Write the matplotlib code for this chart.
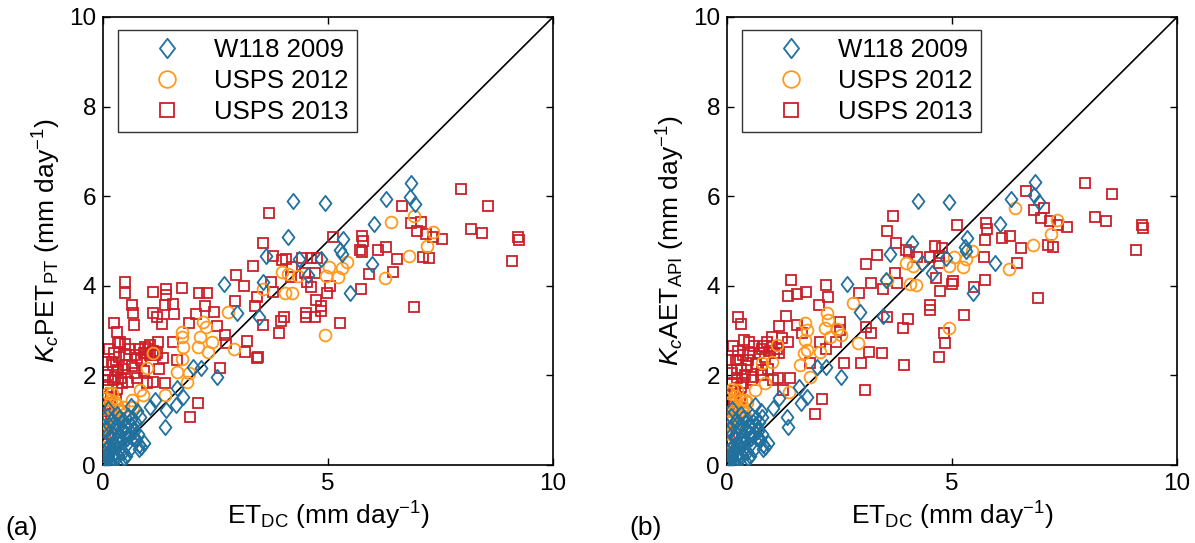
import matplotlib
matplotlib.use("Agg")
import matplotlib.pyplot as plt
from matplotlib.lines import Line2D
from matplotlib.path import Path

plt.rcParams['font.family'] = ['Liberation Sans', 'DejaVu Sans']
plt.rcParams['mathtext.fontset'] = 'custom'
plt.rcParams['mathtext.rm'] = 'Liberation Sans'
plt.rcParams['mathtext.it'] = 'Liberation Sans:italic'

# ---------------- data: panel (a) ----------------
w118_a_x = [4.23, 4.93, 4.12, 3.62, 4.36, 4.56, 4.84, 5.34, 5.27, 5.30, 6.02, 5.97, 6.29, 6.84, 6.82, 6.93,
            3.55, 5.49, 3.47, 2.69, 2.97, 2.01, 2.18, 2.54, 1.64, 1.77, 1.62, 1.39, 1.38, 1.16, 1.04, 0.62,
            0.82, 0.81, 0.67, 0.74, 0.80,
            0.05, 0.08, 0.10, 0.12, 0.15, 0.18, 0.20, 0.22, 0.25, 0.28, 0.30, 0.32, 0.35, 0.38, 0.40, 0.42,
            0.45, 0.48, 0.50, 0.52, 0.55, 0.58, 0.60, 0.02, 0.04, 0.06, 0.10, 0.14, 0.16, 0.20, 0.24, 0.26,
            0.30, 0.34, 0.36, 0.40, 0.44, 0.46, 0.50, 0.62, 0.66, 0.70, 0.75, 0.85, 0.90, 0.72, 0.78, 0.15,
            0.08, 0.12, 0.18, 0.00, 0.00, 0.02, 0.28, 0.33, 0.43, 0.53, 0.57, 0.64, 0.68, 0.24, 0.37, 0.47]
w118_a_y = [5.90, 5.84, 5.10, 4.67, 4.59, 4.24, 4.59, 5.04, 4.80, 4.72, 5.37, 4.49, 5.93, 6.29, 5.99, 5.82,
            4.09, 3.83, 3.31, 4.03, 3.39, 2.19, 2.16, 1.97, 1.71, 1.52, 1.34, 1.23, 0.85, 1.45, 1.30, 1.32,
            1.08, 0.45, 0.63, 0.56, 0.35,
            0.05, 0.15, 0.30, 0.20, 0.45, 0.35, 0.60, 0.25, 0.50, 0.75, 0.40, 0.90, 0.60, 0.30, 0.80, 0.55,
            1.00, 0.70, 0.45, 0.85, 1.10, 0.65, 0.35, 0.50, 0.80, 0.35, 0.70, 0.90, 0.10, 1.00, 0.15, 0.85,
            1.15, 0.20, 1.05, 0.10, 0.30, 0.15, 0.20, 0.90, 0.80, 0.95, 1.20, 0.40, 0.50, 0.60, 0.70, 0.65,
            1.10, 1.25, 0.00, 0.30, 0.15, 0.00, 0.55, 0.65, 0.75, 0.60, 0.95, 1.05, 0.75, 0.40, 0.50, 0.90]

usps12_a_x = [6.39, 6.91, 7.33, 7.21, 6.80, 6.27, 5.43, 5.30, 5.23, 5.02, 4.95, 4.93, 3.97, 4.10, 4.33, 4.19,
              4.04, 3.56, 2.78, 2.22, 2.29, 1.75, 1.75, 2.16, 2.42, 1.77, 2.12, 2.90, 2.34, 1.12, 1.75, 1.64,
              1.90, 0.97, 1.86, 1.38, 0.82, 0.88, 0.64, 0.67, 0.19, 0.27, 0.38, 0.49,
              0.02, 0.05, 0.03, 0.08, 0.10, 0.12, 0.06, 0.15, 0.20, 0.18, 0.25, 0.30, 0.02, 0.04, 0.10, 0.35,
              0.40, 0.45, 0.12, 0.22, 0.00, 0.05]
usps12_a_y = [5.43, 5.56, 5.21, 4.89, 4.67, 4.17, 4.54, 4.39, 4.19, 4.41, 4.22, 2.90, 4.30, 4.26, 4.22, 3.83,
              3.85, 3.94, 3.42, 3.20, 3.09, 2.98, 2.86, 2.86, 2.75, 2.64, 2.64, 2.60, 2.53, 2.51, 2.36, 2.08,
              2.05, 2.16, 1.86, 1.56, 1.67, 1.56, 1.45, 1.30, 1.60, 1.41, 1.23, 1.15,
              0.05, 0.20, 0.40, 0.60, 0.90, 1.10, 1.30, 0.75, 1.25, 1.45, 1.05, 1.35, 0.85, 1.00, 0.30, 1.20,
              1.00, 1.30, 1.60, 0.90, 0.00, 1.50]

usps13_a_x = [7.95, 8.56, 8.17, 8.42, 9.23, 9.25, 9.08, 6.65, 6.84, 7.06, 6.97, 7.17, 7.33, 7.54, 7.12, 7.25,
              6.90, 6.53, 6.45, 6.29, 6.12, 5.75, 5.78, 5.71, 5.75, 5.90, 5.73, 5.27, 5.12, 3.68, 3.55, 3.77,
              3.98, 4.07, 4.21, 4.42, 4.62, 4.76, 4.71, 4.49, 4.53, 4.62, 5.04, 4.98, 4.73, 4.84, 4.84, 4.71,
              4.51, 4.51, 4.02, 3.95, 3.56, 3.90, 3.73, 3.77, 3.42, 3.38, 3.33, 3.45, 4.17,
              2.96, 3.13, 2.93, 1.75, 1.41, 1.41, 1.10, 0.49, 0.49, 0.64, 0.67, 0.69, 0.24, 0.30, 0.34, 1.38,
              1.55, 1.58, 1.12, 1.19, 1.30, 1.90, 2.06, 2.27, 2.47, 2.13, 2.30, 2.54, 2.71, 2.73, 3.19, 3.16,
              3.43, 2.60, 2.10, 1.93, 1.38, 1.25, 1.12, 0.97, 1.04, 1.23, 0.93, 0.90, 0.75, 0.71, 0.49, 0.34,
              0.23, 0.27, 0.42, 0.04, 1.34, 1.55, 1.64, 1.19, 0.00, 0.18,
              0.05, 0.08, 0.10, 0.12, 0.15, 0.18, 0.20, 0.22, 0.25, 0.28, 0.30, 0.32, 0.36, 0.40, 0.45, 0.50,
              0.55, 0.60, 0.65, 0.70, 0.04, 0.02, 0.10, 0.06, 0.14, 0.38, 0.48, 0.80, 0.85, 0.95, 1.05, 1.10,
              1.00, 1.15, 0.90, 0.75]
usps13_a_y = [6.15, 5.78, 5.26, 5.17, 5.08, 5.02, 4.56, 5.79, 5.41, 5.43, 5.22, 5.16, 5.08, 5.04, 4.65, 4.63,
              3.52, 4.60, 4.31, 4.86, 4.81, 5.11, 5.00, 4.81, 4.76, 4.26, 3.92, 3.18, 5.08, 5.62, 4.96, 4.67,
              4.58, 4.60, 4.43, 4.61, 4.63, 4.61, 4.29, 4.28, 4.09, 3.97, 4.00, 3.85, 3.68, 3.54, 3.44, 3.31,
              3.39, 3.30, 3.31, 3.22, 3.13, 2.95, 4.09, 3.87, 3.76, 3.54, 4.44, 2.42, 4.20,
              4.24, 4.00, 3.67, 3.96, 3.94, 3.79, 3.87, 4.09, 3.83, 3.57, 3.39, 3.13, 3.16, 2.98, 2.73, 3.57,
              3.59, 3.36, 3.40, 3.31, 3.15, 3.16, 3.37, 3.56, 3.41, 3.83, 3.85, 3.10, 2.90, 2.72, 2.77, 2.53,
              2.38, 2.16, 1.39, 1.08, 1.84, 2.14, 1.86, 1.84, 2.68, 2.75, 2.64, 2.51, 2.38, 2.05, 2.23, 2.12,
              2.23, 1.97, 1.82, 1.90, 2.38, 2.75, 2.34, 2.49, 0.71, 1.15,
              1.20, 1.50, 1.75, 2.00, 1.35, 1.60, 2.30, 1.90, 2.50, 1.45, 2.10, 1.70, 2.40, 1.95, 2.15, 2.45,
              1.85, 2.60, 2.20, 2.45, 0.70, 1.00, 0.90, 2.30, 2.60, 2.75, 2.70, 2.60, 2.35, 2.50, 2.45, 2.55,
              2.60, 2.45, 2.10, 1.95]

# ---------------- data: panel (b) ----------------
w118_b_x = [4.24, 4.93, 6.30, 6.84, 6.82, 6.94, 6.07, 5.34, 5.29, 5.31, 5.96, 5.47, 4.87, 4.55, 4.33, 4.12,
            3.62, 3.53, 3.46, 2.67, 2.96, 1.99, 2.20, 2.53, 1.61, 1.78, 1.64, 1.33, 1.36, 1.16, 1.03, 0.62,
            0.77, 0.79, 0.66, 0.74, 0.80,
            0.05, 0.08, 0.10, 0.12, 0.15, 0.18, 0.20, 0.22, 0.25, 0.28, 0.30, 0.32, 0.35, 0.38, 0.40, 0.42,
            0.45, 0.48, 0.50, 0.52, 0.55, 0.58, 0.60, 0.02, 0.04, 0.06, 0.10, 0.14, 0.16, 0.20, 0.24, 0.26,
            0.30, 0.34, 0.36, 0.40, 0.44, 0.46, 0.50, 0.62, 0.66, 0.70, 0.75, 0.85, 0.90, 0.72, 0.78, 0.15,
            0.08, 0.12, 0.18, 0.00, 0.00, 0.02, 0.28, 0.33, 0.43, 0.53, 0.57, 0.64, 0.68, 0.24, 0.37, 0.47]
w118_b_y = [5.90, 5.87, 5.93, 6.32, 6.03, 5.86, 5.39, 5.07, 4.86, 4.78, 4.52, 3.85, 4.61, 4.28, 4.50, 4.95,
            4.70, 4.13, 3.33, 4.03, 3.41, 2.19, 2.18, 1.97, 1.75, 1.52, 1.38, 1.08, 0.85, 1.49, 1.27, 1.34,
            1.08, 0.45, 0.60, 0.56, 0.35,
            0.05, 0.15, 0.30, 0.20, 0.45, 0.35, 0.60, 0.25, 0.50, 0.75, 0.40, 0.90, 0.60, 0.30, 0.80, 0.55,
            1.00, 0.70, 0.45, 0.85, 1.10, 0.65, 0.35, 0.50, 0.80, 0.35, 0.70, 0.90, 0.10, 1.00, 0.15, 0.85,
            1.15, 0.20, 1.05, 0.10, 0.30, 0.15, 0.20, 0.90, 0.80, 0.95, 1.20, 0.40, 0.50, 0.60, 0.70, 0.65,
            1.10, 1.25, 0.00, 0.30, 0.15, 0.00, 0.55, 0.65, 0.75, 0.60, 0.95, 1.05, 0.75, 0.40, 0.50, 0.90]

usps12_b_x = [6.40, 7.33, 7.20, 6.79, 6.27, 5.44, 5.31, 5.24, 5.04, 4.94, 4.94, 3.98, 4.14, 4.07, 4.20, 3.55,
              2.79, 2.22, 2.25, 1.73, 1.77, 2.18, 2.44, 2.29, 2.53, 2.92, 1.73, 1.77, 2.07, 1.84, 1.10, 0.77,
              0.99, 1.70, 1.62, 1.38, 0.84, 0.62, 0.40, 0.22, 0.18, 0.07, 0.33,
              0.02, 0.05, 0.03, 0.08, 0.10, 0.12, 0.06, 0.15, 0.20, 0.18, 0.25, 0.30, 0.02, 0.04, 0.10, 0.35,
              0.40, 0.45, 0.12, 0.22, 0.00, 0.05]
usps12_b_y = [5.73, 5.48, 5.16, 4.91, 4.38, 4.78, 4.59, 4.41, 4.64, 4.44, 3.05, 4.52, 4.44, 4.04, 4.02, 4.14,
              3.62, 3.39, 3.24, 3.16, 3.01, 3.05, 3.03, 2.85, 2.90, 2.72, 2.79, 2.57, 2.53, 1.97, 2.68, 2.27,
              2.31, 2.49, 2.23, 1.64, 1.82, 1.67, 1.45, 1.67, 1.27, 1.08, 1.23,
              0.05, 0.25, 0.45, 0.70, 1.00, 1.20, 1.40, 0.85, 1.35, 1.55, 1.15, 1.45, 0.95, 1.10, 0.35, 1.30,
              1.10, 1.40, 1.70, 1.00, 0.00, 1.60]

usps13_b_x = [7.96, 8.56, 8.18, 8.42, 9.22, 9.25, 9.09, 6.64, 6.82, 7.04, 6.98, 7.18, 7.35, 7.55, 7.13, 7.25,
              6.90, 6.53, 6.45, 6.29, 6.10, 5.76, 5.78, 5.73, 5.71, 5.73, 5.49, 5.27, 5.10, 3.68, 3.55, 3.76,
              3.98, 4.05, 4.23, 4.62, 4.77, 4.70, 4.51, 4.72, 4.64, 5.03, 4.99, 4.73, 4.51, 4.51, 4.03, 3.90,
              3.56, 3.73, 3.78, 3.46, 4.82, 4.84, 4.70, 3.44,
              3.33, 3.09, 3.20, 2.94, 1.42, 1.36, 1.56, 1.76, 2.20, 2.25, 2.05, 0.25, 0.30, 1.31, 1.16, 1.55,
              1.66, 0.99, 1.22, 0.88, 0.77, 1.36, 2.51, 2.51, 2.07, 2.20, 2.42, 3.09, 3.19, 3.16, 2.97, 2.60,
              1.84, 0.25, 0.47, 0.22, 0.77, 1.03, 1.14, 1.40, 1.25, 0.58, 0.36, 0.14, 2.10, 1.96, 3.07, 3.93,
              0.00,
              0.05, 0.08, 0.10, 0.12, 0.15, 0.18, 0.20, 0.22, 0.25, 0.28, 0.30, 0.32, 0.36, 0.40, 0.45, 0.50,
              0.55, 0.60, 0.65, 0.70, 0.04, 0.02, 0.10, 0.06, 0.14, 0.38, 0.48, 0.80, 0.85, 0.95, 1.05, 1.10,
              1.00, 1.15, 0.90, 0.75]
usps13_b_y = [6.30, 6.04, 5.54, 5.45, 5.36, 5.28, 4.80, 6.12, 5.69, 5.73, 5.51, 5.45, 5.36, 5.32, 4.91, 4.87,
              3.72, 4.85, 4.52, 5.11, 5.06, 5.41, 5.26, 5.02, 4.64, 4.13, 3.98, 3.35, 5.36, 5.56, 5.23, 4.95,
              4.80, 4.76, 4.65, 4.89, 4.85, 4.67, 4.64, 4.50, 4.17, 4.11, 4.04, 3.88, 3.57, 3.47, 3.25, 3.05,
              3.30, 4.29, 4.07, 3.92, 2.95, 2.72, 2.42, 2.49,
              4.69, 4.49, 4.07, 3.85, 4.14, 3.77, 3.82, 3.87, 4.02, 3.76, 3.57, 3.31, 3.14, 3.33, 3.11, 3.13,
              2.94, 2.86, 2.83, 2.75, 2.58, 2.75, 3.20, 3.01, 2.75, 2.60, 2.75, 3.09, 2.94, 2.52, 2.28, 2.27,
              2.28, 2.34, 2.34, 2.12, 2.12, 1.90, 1.94, 1.94, 1.67, 1.97, 1.82, 1.45, 1.47, 1.13, 1.67, 2.23,
              0.71,
              1.25, 1.55, 1.80, 2.05, 1.40, 1.65, 2.35, 1.95, 2.55, 1.50, 2.15, 1.75, 2.45, 2.00, 2.20, 2.50,
              1.90, 2.65, 2.25, 2.50, 0.75, 1.05, 0.95, 2.35, 2.65, 2.80, 2.75, 2.65, 2.40, 2.55, 2.50, 2.60,
              2.65, 2.50, 2.15, 2.00]

series_labels = ['W118 2009', 'USPS 2012', 'USPS 2013']
x_ticks = [0, 5, 10]
y_ticks = [0, 2, 4, 6, 8, 10]

c_blue = '#21709e'
c_orange = '#ff9a1f'
c_red = '#cc1f27'

# MATLAB-like diamond: taller than wide
diamond = Path([(0, -1), (0.78, 0), (0, 1), (-0.78, 0), (0, -1)],
               [Path.MOVETO, Path.LINETO, Path.LINETO, Path.LINETO, Path.CLOSEPOLY])

fig = plt.figure(figsize=(11.95, 5.43), dpi=100)
axes_pos = [[0.0862, 0.1436, 0.3766, 0.8251], [0.6084, 0.1436, 0.3766, 0.8251]]
ylabels = [r'$K_c$PET$_{\mathrm{PT}}$ (mm day$^{-1}$)', r'$K_c$AET$_{\mathrm{API}}$ (mm day$^{-1}$)']
panel_tags = ['(a)', '(b)']
datasets = [
    (w118_a_x, w118_a_y, usps12_a_x, usps12_a_y, usps13_a_x, usps13_a_y),
    (w118_b_x, w118_b_y, usps12_b_x, usps12_b_y, usps13_b_x, usps13_b_y),
]

for i, pos in enumerate(axes_pos):
    ax = fig.add_axes(pos)
    wx, wy, ox, oy, rx, ry = datasets[i]
    ax.plot([0, 10], [0, 10], color='black', lw=1.2, zorder=1)
    ax.plot(rx, ry, ls='none', marker='s', ms=6.5, mfc='none', mec=c_red, mew=1.3, zorder=2)
    ax.plot(ox, oy, ls='none', marker='o', ms=8.5, mfc='none', mec=c_orange, mew=1.3, zorder=3)
    ax.plot(wx, wy, ls='none', marker=diamond, ms=11, mfc='none', mec=c_blue, mew=1.3, zorder=4)
    ax.set_xlim(0, 10)
    ax.set_ylim(0, 10)
    ax.set_xticks(x_ticks)
    ax.set_yticks(y_ticks)
    ax.tick_params(direction='in', top=True, right=True, length=5, width=1, labelsize=17.5)
    ax.tick_params(axis='x', pad=6)
    ax.tick_params(axis='y', pad=5)
    for s in ax.spines.values():
        s.set_linewidth(1.2)
    ax.set_xlabel(r'ET$_{\mathrm{DC}}$ (mm day$^{-1}$)', fontsize=19, labelpad=3)
    ax.set_ylabel(ylabels[i], fontsize=19, labelpad=4)
    handles = [
        Line2D([], [], ls='none', marker=diamond, ms=14, mfc='none', mec=c_blue, mew=1.3),
        Line2D([], [], ls='none', marker='o', ms=12, mfc='none', mec=c_orange, mew=1.3),
        Line2D([], [], ls='none', marker='s', ms=10, mfc='none', mec=c_red, mew=1.3),
    ]
    leg = ax.legend(handles, series_labels, loc='upper left', bbox_to_anchor=(0.0333, 0.971),
                    fontsize=18.5, frameon=True, fancybox=False, edgecolor='black',
                    borderpad=0.3, labelspacing=0.28, handlelength=3.2, handletextpad=0.25,
                    borderaxespad=0)
    leg.get_frame().set_linewidth(1.0)
    fig.text(pos[0] - 0.082, 0.015, panel_tags[i], fontsize=19, ha='left', va='baseline')

fig.savefig('out.png', dpi=100)
